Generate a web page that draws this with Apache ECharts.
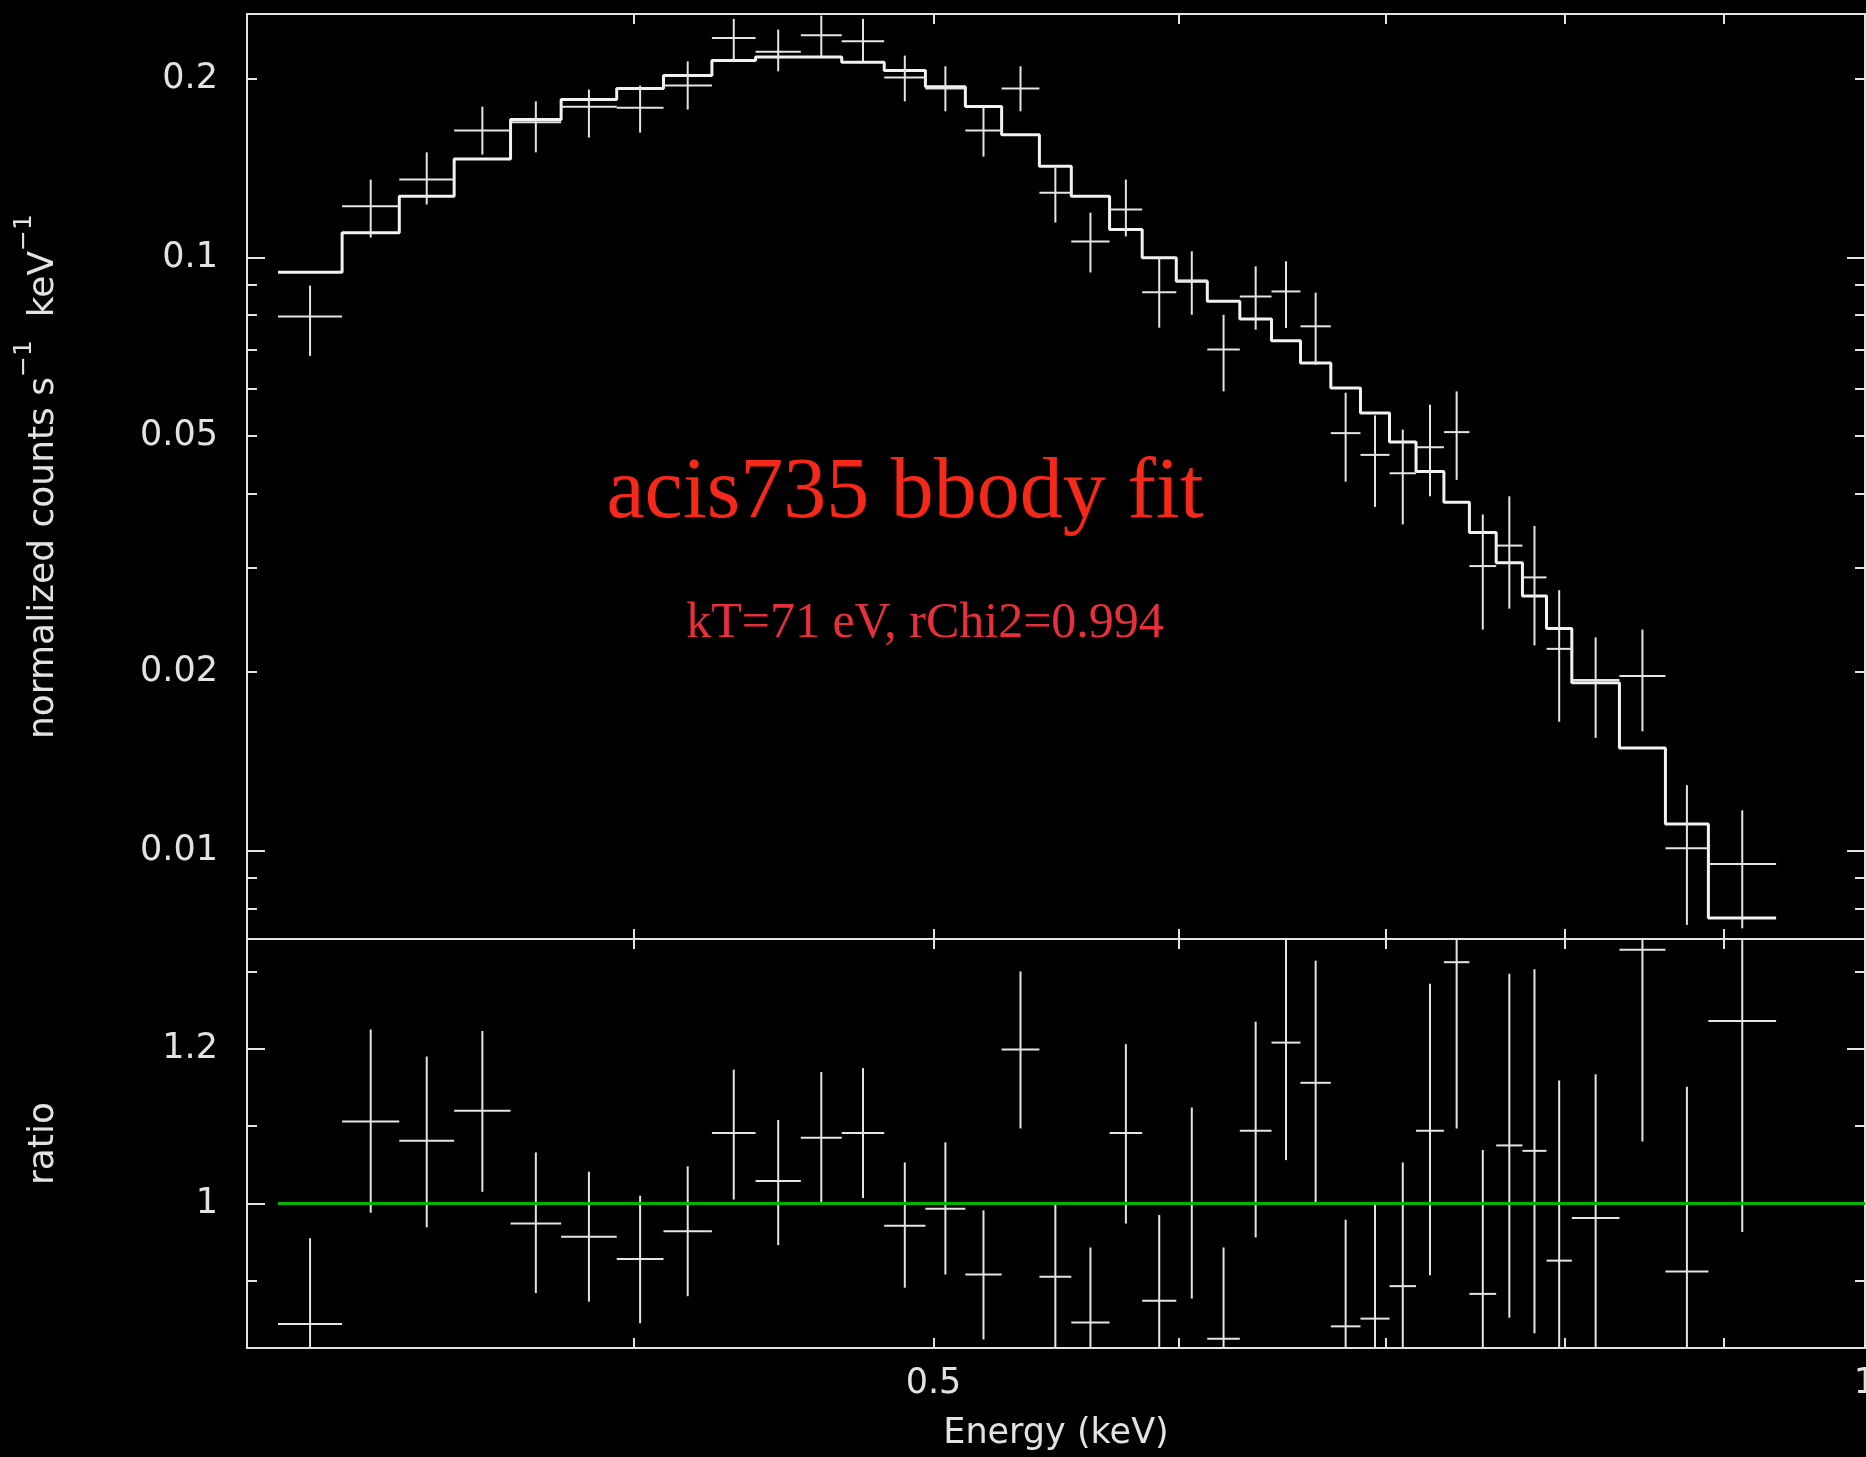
<!DOCTYPE html>
<html><head><meta charset="utf-8">
<script src="https://cdn.jsdelivr.net/npm/echarts@6/dist/echarts.min.js"></script>
<style>html,body{margin:0;padding:0;background:#000;} #c{width:1866px;height:1457px;}</style>
</head><body><div id="c"></div>
<script>
// Energy bin edges (keV)
const binEdges = [0.307,0.322,0.336,0.350,0.365,0.379,0.395,0.409,0.424,0.438,0.453,0.467,0.482,0.497,0.512,0.526,0.541,0.554,0.570,0.584,0.599,0.613,0.628,0.643,0.657,0.672,0.687,0.702,0.716,0.731,0.745,0.760,0.775,0.789,0.804,0.833,0.862,0.890,0.936];
// normalized counts s^-1 keV^-1 (data)
const countsVals = [0.0796,0.1221,0.1354,0.1638,0.1691,0.1796,0.1789,0.1950,0.2347,0.2225,0.2371,0.2316,0.2012,0.1928,0.1638,0.1928,0.1286,0.1065,0.1205,0.0874,0.0915,0.0700,0.0860,0.0877,0.0766,0.0506,0.0465,0.0433,0.0479,0.0508,0.0302,0.0327,0.0289,0.0219,0.0194,0.0197,0.0101,0.0095];
const countsLo = [0.0683,0.1081,0.1229,0.1492,0.1505,0.1594,0.1625,0.1777,0.2157,0.2061,0.2180,0.2143,0.1834,0.1765,0.1480,0.1765,0.1146,0.0944,0.1086,0.0762,0.0801,0.0595,0.0756,0.0761,0.0660,0.0419,0.0380,0.0355,0.0396,0.0422,0.0236,0.0256,0.0222,0.0165,0.0155,0.0159,0.0075,0.0074];
const countsHi = [0.0897,0.1354,0.1505,0.1797,0.1834,0.1920,0.1950,0.2143,0.2527,0.2424,0.2559,0.2527,0.2191,0.2102,0.1793,0.2102,0.1418,0.1191,0.1354,0.1000,0.1025,0.0801,0.0967,0.0986,0.0873,0.0592,0.0542,0.0513,0.0565,0.0595,0.0369,0.0396,0.0353,0.0275,0.0229,0.0236,0.0129,0.0117];
// bbody model (step)
const modelVals = [0.0945,0.1102,0.1269,0.1467,0.1709,0.1847,0.1928,0.2028,0.2149,0.2180,0.2180,0.2135,0.2067,0.1941,0.1799,0.1612,0.1426,0.1269,0.1115,0.1000,0.0912,0.0844,0.0788,0.0724,0.0664,0.0603,0.0547,0.0489,0.0436,0.0387,0.0344,0.0306,0.0269,0.0237,0.0192,0.0149,0.0111,0.0077];
// ratio data/model
const ratioVals = [0.844,1.106,1.081,1.120,0.974,0.957,0.928,0.964,1.091,1.029,1.085,1.091,0.971,0.993,0.908,1.199,0.905,0.846,1.091,0.874,1.000,0.825,1.094,1.208,1.156,0.841,0.851,0.893,1.094,1.312,0.883,1.075,1.068,0.926,0.981,1.328,0.912,1.236];
const ratioLo = [0.733,0.988,0.969,1.015,0.884,0.873,0.845,0.880,1.005,0.946,1.000,1.007,0.891,0.908,0.824,1.097,0.812,0.749,0.974,0.763,0.877,0.707,0.956,1.056,1.000,0.703,0.703,0.733,0.907,1.097,0.697,0.852,0.832,0.693,0.795,1.080,0.673,0.963];
const ratioHi = [0.955,1.225,1.190,1.223,1.066,1.041,1.010,1.048,1.173,1.108,1.170,1.175,1.053,1.079,0.991,1.300,0.998,0.943,1.206,0.985,1.124,0.943,1.235,1.360,1.314,0.979,0.999,1.053,1.284,1.527,1.069,1.297,1.303,1.159,1.167,1.576,1.151,1.509];
const ratioRef = 1;
// axes
const xRange = [0.3, 1.0];
const yUpRange = [0.0071, 0.2575];
const yLoRange = [0.813, 1.342];
const xTickVals = [0.4,0.5,0.6,0.7,0.8,0.9];
const xLabelVals = [0.5, 1];
const yUpMinorTicks = [0.008,0.009,0.02,0.03,0.04,0.05,0.06,0.07,0.08,0.09,0.2];
const yUpMajorTicks = [0.01,0.1];
const yUpLabels = [0.01,0.02,0.05,0.1,0.2];
const yLoMinorTicks = [0.9,1.1,1.3];
const yLoMajorTicks = [1,1.2];
const yLoLabels = [1,1.2];
const titleText = 'acis735 bbody fit';
const subText = 'kT=71 eV, rChi2=0.994';

const FG = '#e2e2e2';
const FONT = 'DejaVu Sans';
const LW = 2;

const chart = echarts.init(document.getElementById('c'), null, {renderer:'canvas'});

function xAx(grid, pos, extra) {
  return Object.assign({
    type:'log', logBase:10, gridIndex:grid, position:pos, min:xRange[0], max:xRange[1],
    axisLine:{show:true, onZero:false, lineStyle:{color:FG, width:LW}},
    axisTick:{show:true, inside:true, length:10, customValues:xTickVals, lineStyle:{color:FG, width:LW}},
    axisLabel:{show:false}, splitLine:{show:false}, minorTick:{show:false}
  }, extra || {});
}
function yAx(grid, pos, type, range, ticks, len, line, extra) {
  const o = {
    type:type, gridIndex:grid, position:pos, min:range[0], max:range[1],
    axisLine:{show:line, onZero:false, lineStyle:{color:FG, width:LW}},
    axisTick:{show:true, inside:true, length:len, customValues:ticks, lineStyle:{color:FG, width:LW}},
    axisLabel:{show:false}, splitLine:{show:false}, minorTick:{show:false}
  };
  if (type === 'log') o.logBase = 10;
  return Object.assign(o, extra || {});
}
const lblStyle = (vals) => ({show:true, customValues:vals, color:FG, fontFamily:FONT, fontSize:35, margin:29,
  hideOverlap:false, formatter: v => String(+(+v).toPrecision(3))});

const richName = {
  n:{fontSize:36, fontFamily:FONT, color:FG, lineHeight:50, verticalAlign:'bottom'},
  s:{fontSize:25, fontFamily:FONT, color:FG, lineHeight:25, verticalAlign:'top'}
};

function crossItem(params, api) {
  const lo = api.value(0), hi = api.value(1), v = api.value(2), el = api.value(3), eh = api.value(4);
  const c = Math.sqrt(lo * hi);
  const a = api.coord([lo, v]), b = api.coord([hi, v]);
  const p = api.coord([c, el]), q = api.coord([c, eh]);
  const st = {stroke:'#e4e4e4', lineWidth:LW};
  return {type:'group', children:[
    {type:'line', shape:{x1:a[0], y1:a[1], x2:b[0], y2:b[1]}, style:st},
    {type:'line', shape:{x1:p[0], y1:p[1], x2:q[0], y2:q[1]}, style:st}
  ]};
}

const upperCross = countsVals.map((v,i) => [binEdges[i], binEdges[i+1], v, countsLo[i], countsHi[i]]);
const ratioCross = ratioVals.map((v,i) => [binEdges[i], binEdges[i+1], v, ratioLo[i], ratioHi[i]]);
const modelStep = modelVals.map((v,i) => [binEdges[i], v]).concat([[binEdges[binEdges.length-1], modelVals[modelVals.length-1]]]);
const refLine = [[binEdges[0], ratioRef], [xRange[1], ratioRef]];

const option = {
  backgroundColor:'#000',
  animation:false,
  grid:[
    {left:247, top:14, width:1618, height:925, outerBoundsMode:'none', containLabel:false},
    {left:247, top:939, width:1618, height:409, outerBoundsMode:'none', containLabel:false}
  ],
  xAxis:[
    xAx(0,'bottom'),
    xAx(0,'top'),
    xAx(1,'bottom',{axisLabel:Object.assign(lblStyle(xLabelVals),{margin:18}),
      name:'Energy (keV)', nameLocation:'middle', nameGap:68,
      nameTextStyle:{color:FG, fontFamily:FONT, fontSize:35}}),
    xAx(1,'top')
  ],
  yAxis:[
    yAx(0,'left','log',yUpRange,yUpMinorTicks,10,true,{axisLabel:lblStyle(yUpLabels),
      name:'{n|normalized counts s}{s|\u22121}{n|  keV}{s|\u22121}', nameLocation:'middle', nameRotate:90, nameGap:185,
      nameTextStyle:{color:FG, fontFamily:FONT, fontSize:36, rich:richName}}),
    yAx(0,'left','log',yUpRange,yUpMajorTicks,18,false),
    yAx(0,'right','log',yUpRange,yUpMinorTicks,10,true),
    yAx(0,'right','log',yUpRange,yUpMajorTicks,18,false),
    yAx(1,'left','value',yLoRange,yLoMinorTicks,10,true,{axisLabel:lblStyle(yLoLabels),
      name:'ratio', nameLocation:'middle', nameRotate:90, nameGap:185,
      nameTextStyle:{color:FG, fontFamily:FONT, fontSize:36}}),
    yAx(1,'left','value',yLoRange,yLoMajorTicks,18,false),
    yAx(1,'right','value',yLoRange,yLoMinorTicks,10,true),
    yAx(1,'right','value',yLoRange,yLoMajorTicks,18,false)
  ],
  series:[
    {type:'line', name:'model', xAxisIndex:0, yAxisIndex:0, data:modelStep, step:'end', symbol:'none',
      lineStyle:{color:'#f2f2f2', width:3}, clip:true, z:3},
    {type:'custom', name:'data', xAxisIndex:0, yAxisIndex:0, data:upperCross, renderItem:crossItem,
      encode:{x:[0,1], y:[2,3,4]}, clip:true, z:4},
    {type:'custom', name:'ratio', xAxisIndex:2, yAxisIndex:4, data:ratioCross, renderItem:crossItem,
      encode:{x:[0,1], y:[2,3,4]}, clip:true, z:3},
    {type:'line', name:'unity', xAxisIndex:2, yAxisIndex:4, data:refLine, symbol:'none',
      lineStyle:{color:'#00b400', width:3}, clip:true, z:5}
  ],
  graphic:[
    {type:'text', x:905, y:494, z:10, style:{text:titleText, fontSize:86, fontFamily:'Liberation Serif',
      fill:'#f5281a', align:'center', verticalAlign:'middle', textAlign:'center', textVerticalAlign:'middle'}},
    {type:'text', x:925, y:624, z:10, style:{text:subText, fontSize:50, fontFamily:'Liberation Serif',
      fill:'#e8303c', align:'center', verticalAlign:'middle', textAlign:'center', textVerticalAlign:'middle'}}
  ]
};
chart.setOption(option);
</script>
</body></html>
